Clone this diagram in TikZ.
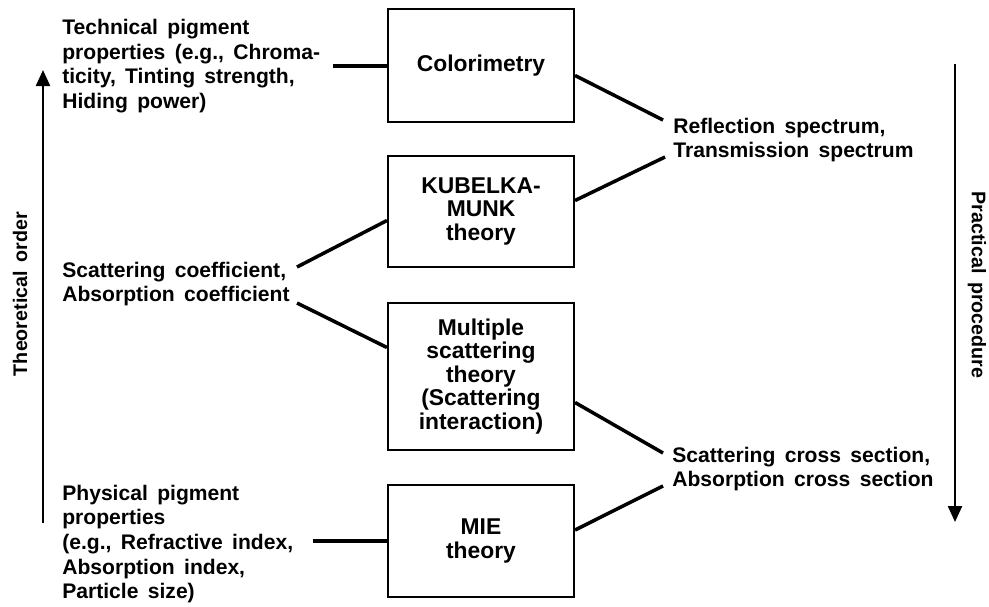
\documentclass[tikz,border=0pt]{standalone}
\usepackage{fontspec}
\setmainfont[WordSpace=1.6]{Liberation Sans}
\usetikzlibrary{arrows.meta,calc}

\begin{document}
\begin{tikzpicture}[x=0.02cm, y=-0.02cm,
  theorybox/.style={draw, line width=1.2pt, minimum width=3.72cm, align=center,
    font=\fontsize{13}{13.4}\selectfont\bfseries},
  sidetext/.style={anchor=west, align=left, inner sep=0pt,
    font=\fontsize{12}{14}\selectfont\bfseries},
  link/.style={line width=2pt},
  orderarrow/.style={line width=1.3pt, -{Triangle[length=0.32cm, width=0.28cm]}},
  ordertext/.style={font=\fontsize{11.2}{13.8}\selectfont\bfseries}]
\useasboundingbox (0,0) rectangle (989,606);

% Theory boxes, middle column
\node[theorybox, minimum height=2.26cm] (colo) at (481,65.5) {Colorimetry};
\node[theorybox, minimum height=2.22cm] (kubelka) at (481,211.5) {KUBELKA-\\MUNK\\theory};
\node[theorybox, minimum height=2.94cm] (multi) at (481,376.5) {Multiple\\scattering\\theory\\(Scattering\\interaction)};
\node[theorybox, minimum height=2.24cm] (mie) at (481,541) {MIE\\theory};

% Quantities, left column
\node[sidetext] (tech) at (62,66) {Technical pigment\\properties (e.g., Chroma-\\ticity, Tinting strength,\\Hiding power)};
\node[sidetext] (coef) at (62,284) {Scattering coefficient,\\Absorption coefficient};
\node[sidetext] (phys) at (62,544) {Physical pigment\\properties\\(e.g., Refractive index,\\Absorption index,\\Particle size)};

% Quantities, right column
\node[sidetext] (refl) at (673,140) {Reflection spectrum,\\Transmission spectrum};
\node[sidetext] (cross) at (672,469) {Scattering cross section,\\Absorption cross section};

% Connectors
\coordinate (techEnd) at ($(tech.west)+(271,0)$);
\coordinate (physEnd) at ($(phys.west)+(251,0)$);
\draw[link] (techEnd) -- (colo.west |- techEnd);
\draw[link] ($(colo.east)+(0,10)$) -- ($(refl.west)+(-10,-20)$);
\draw[link] ($(kubelka.east)+(0,-11)$) -- ($(refl.west)+(-8,17)$);
\draw[link] ($(kubelka.west)+(0,9)$) -- ($(coef.west)+(235,-17)$);
\draw[link] ($(multi.west)+(0,-29)$) -- ($(coef.west)+(235,19)$);
\draw[link] ($(multi.east)+(0,26)$) -- ($(cross.west)+(-9,-16)$);
\draw[link] ($(mie.east)+(0,-11)$) -- ($(cross.west)+(-9,17)$);
\draw[link] (physEnd |- mie.west) -- (mie.west);

% Order arrows
\coordinate (theoBot) at (43,523);
\coordinate (theoTop) at (43,70);
\draw[orderarrow] (theoBot) -- (theoTop);
\node[ordertext, rotate=90] (theo) at (20,294) {Theoretical order};

\coordinate (pracTop) at (955,64);
\coordinate (pracBot) at (955,522);
\draw[orderarrow] (pracTop) -- (pracBot);
\node[ordertext, rotate=-90] (prac) at (977,285) {Practical procedure};

\end{tikzpicture}
\end{document}
